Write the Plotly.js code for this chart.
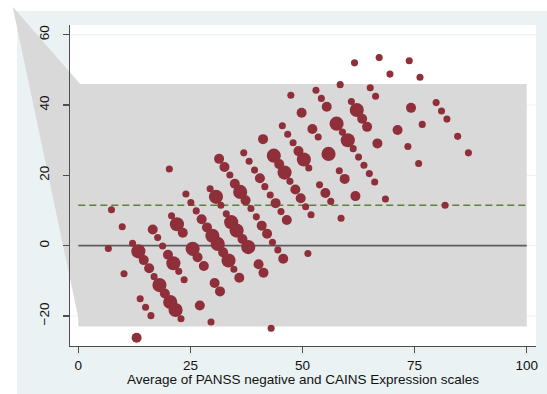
<!DOCTYPE html>
<html><head><meta charset="utf-8">
<script src="https://cdn.plot.ly/plotly-3.0.1.min.js"></script>
<style>html,body{margin:0;padding:0;background:#fff;}#chart{width:547px;height:394px;}</style>
</head><body><div id="chart"></div>
<script>
// Average of the two scales (x) and their difference (y), with frequency weights
const avgScore = [20.3,24.0,25.1,7.4,26.3,20.8,22.0,9.8,16.6,23.3,17.7,12.1,18.8,6.7,13.4,25.5,20.0,14.6,21.2,15.8,10.2,22.4,16.9,23.6,18.1,19.3,13.8,20.5,15.0,21.7,16.2,22.9,13.0,27.1,26.6,
  49.8,45.5,52.2,46.7,53.5,41.2,47.9,36.9,43.6,49.1,50.3,31.4,38.1,44.8,32.6,51.4,46.0,39.3,33.8,40.5,47.2,34.9,41.6,53.8,29.4,36.1,48.4,42.8,30.7,49.6,37.3,44.0,31.8,50.7,38.5,45.2,33.0,51.9,39.7,46.5,27.5,34.1,40.9,28.7,35.3,42.1,29.9,36.6,43.3,31.1,37.9,44.5,
  51.2,32.3,45.7,33.5,28.0,40.2,34.7,41.3,35.9,30.4,31.6,29.6,43.0,
  55.1,56.3,58.6,59.4,61.8,66.1,
  61.6,67.1,58.4,53.0,65.1,47.4,54.2,66.3,60.9,55.4,62.1,63.3,57.6,64.4,58.9,60.1,66.7,61.3,55.8,62.5,63.7,58.2,64.9,
  73.8,69.5,76.2,79.8,74.2,81.0,82.2,76.7,71.2,84.6,73.5,87.0,75.9,68.5,81.8];
const diffScore = [21.8,14.7,12.3,10.2,9.9,8.5,6.1,5.4,4.6,3.7,2.3,0.7,-0.1,-0.8,-1.6,-0.9,-2.6,-4.1,-5.0,-6.4,-8.0,-7.3,-8.8,-9.7,-11.2,-13.6,-15.1,-16.0,-17.5,-18.3,-19.9,-20.8,-26.2,-17.0,-3.3,
  37.8,34.1,33.2,31.7,30.9,30.3,29.3,26.4,25.6,26.9,24.5,24.7,24.0,23.2,22.4,22.1,20.8,21.5,20.1,19.2,18.3,17.6,16.8,17.3,16.2,15.3,16.0,14.4,13.9,13.5,12.9,12.1,11.5,11.1,10.6,9.7,9.1,8.8,8.2,7.3,7.5,6.7,5.7,5.2,4.3,3.4,2.8,1.9,1.0,0.5,-0.4,-1.2,
  -2.2,-1.9,-3.7,-4.2,-5.8,-5.3,-6.7,-7.7,-9.1,-10.6,-13.0,-21.7,-23.5,
  15.0,12.6,7.8,19.0,14.1,18.1,
  52.0,53.5,45.8,44.2,44.9,42.8,41.9,42.5,41.0,39.5,38.6,36.1,34.7,33.8,32.3,30.0,29.1,27.6,26.1,25.2,22.9,21.3,20.5,
  52.6,48.8,47.9,40.7,39.2,38.3,36.0,34.5,32.9,31.1,28.2,26.4,23.4,13.3,11.5];
const freq = [1,1,1,1,1,1,4,1,2,2,1,1,1,1,4,4,2,2,4,2,1,1,1,1,4,2,1,4,1,4,1,1,2,2,2,
  2,1,2,1,1,2,1,1,4,2,4,2,1,2,2,1,4,1,1,2,1,2,1,1,1,4,2,1,4,2,2,2,1,1,1,1,1,1,1,2,2,4,2,2,4,2,4,2,1,4,4,1,
  1,2,2,4,2,2,1,2,2,2,2,1,1,
  2,1,1,2,2,1,
  1,1,1,1,1,1,1,1,1,2,4,2,4,2,1,4,2,1,4,1,1,1,1,
  1,1,1,1,2,1,1,1,2,1,1,1,1,1,1];
const meanDiff = 11.5;
const loaUpper = 46.0;
const loaLower = -23.0;
const refStart = 0, refEnd = 100;
const xTicks = [0,25,50,75,100];
const yTicks = [-20,0,20,40,60];
const xTitle = 'Average of PANSS negative and CAINS Expression scales';

const xRange = [-1.85, 102.07];
const yRange = [-28.53, 62.77];
const px = v => (v - xRange[0]) / (xRange[1] - xRange[0]);
const py = v => (v - yRange[0]) / (yRange[1] - yRange[0]);

const band = '#d9d9d9';
const shapes = [];
// white outer strips (top and left) over light-blue graph region
shapes.push({type:'rect', xref:'paper', yref:'paper', x0:-0.2, x1:1.1, y0:1.0436, y1:1.2, fillcolor:'#ffffff', line:{width:0}, layer:'below'});
shapes.push({type:'rect', xref:'paper', yref:'paper', x0:-0.2, x1:-0.1137, y0:-0.2, y1:1.2, fillcolor:'#ffffff', line:{width:0}, layer:'below'});
// grid lines
yTicks.forEach(t => shapes.push({type:'line', xref:'paper', yref:'y', x0:0, x1:1, y0:t, y1:t, line:{color:'#eaf2f3', width:1}, layer:'below'}));
// stray polygon vertex of the shaded area (rendering artifact)
const sx = -0.123, sy = 1.057;
shapes.push({type:'path', xref:'paper', yref:'paper', layer:'below', fillcolor:band, line:{width:0},
  path:`M ${sx},${sy} L ${px(refStart)+0.004},${py(loaUpper)} L ${px(refStart)+0.004},${py(loaLower)} Z`});
// limits-of-agreement band
shapes.push({type:'rect', xref:'x', yref:'y', x0:refStart, x1:refEnd, y0:loaLower, y1:loaUpper, fillcolor:band, line:{width:0}, layer:'below'});

const traces = [
  {x:[refStart, refEnd], y:[0,0], mode:'lines', line:{color:'#5c5c5c', width:1.8}, hoverinfo:'skip'},
  {x:[refStart, refEnd], y:[meanDiff, meanDiff], mode:'lines', line:{color:'#5f803c', width:1.3, dash:'7px,4px'}, hoverinfo:'skip'},
  {x:avgScore, y:diffScore, mode:'markers', marker:{size:freq, sizemode:'area', sizeref:0.04, opacity:1, color:'#8f2f3a', line:{width:0}}}
];

const fontFam = 'Liberation Sans, Arial, sans-serif';
const layout = {
  width:547, height:394,
  margin:{l:70, r:11, t:25, b:48},
  paper_bgcolor:'#eaf2f3', plot_bgcolor:'#ffffff',
  showlegend:false,
  font:{family:fontFam, size:13.5, color:'#111'},
  xaxis:{range:xRange, tickvals:xTicks, showgrid:false, zeroline:false, showline:true, linecolor:'#4d4d4d', linewidth:1.3,
    ticks:'outside', ticklen:6, tickwidth:1.3, tickcolor:'#4d4d4d', tickfont:{size:13.5},
    title:{text:xTitle, font:{size:13.5}, standoff:3}},
  yaxis:{range:yRange, tickvals:yTicks, showgrid:false, zeroline:false, showline:true, linecolor:'#4d4d4d', linewidth:1.3,
    ticks:'outside', ticklen:6, tickwidth:1.3, tickcolor:'#4d4d4d', tickangle:-90, tickfont:{size:13.5}, ticklabelstandoff:8},
  shapes:shapes
};
Plotly.newPlot('chart', traces, layout, {displayModeBar:false, staticPlot:true});
</script></body></html>
